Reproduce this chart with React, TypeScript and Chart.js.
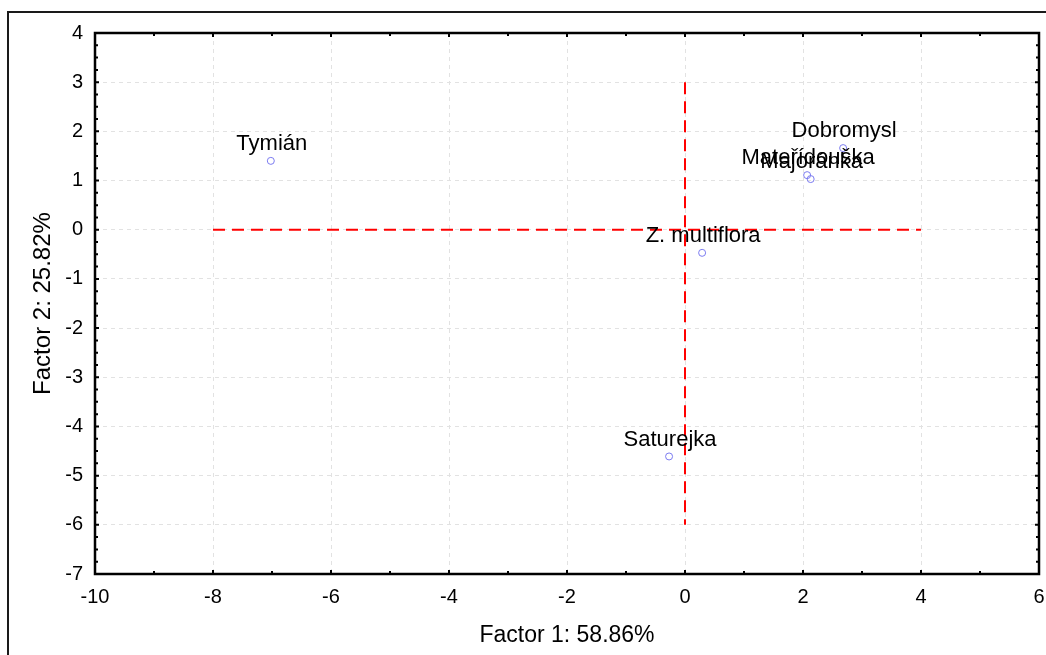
import { useEffect, useRef } from 'react';
import { Chart, registerables } from 'chart.js';

Chart.register(...registerables);

// ---- data ----
const pointNames = ['Tymián', 'Dobromysl', 'Mateřídouška', 'Majoránka', 'Z. multiflora', 'Saturejka'];
const factor1 = [-7.02, 2.68, 2.07, 2.13, 0.29, -0.27];
const factor2 = [1.4, 1.66, 1.11, 1.03, -0.47, -4.61];

const hLineX = [-8, 4];
const hLineY = [0, 0];
const vLineX = [0, 0];
const vLineY = [3, -6];

const xMin = -10;
const xMax = 6;
const xStep = 2;
const yMin = -7;
const yMax = 4;
const yStep = 1;

const xAxisTitle = 'Factor 1: 58.86%';
const yAxisTitle = 'Factor 2: 25.82%';

const FONT = '"Liberation Sans", Arial, Helvetica, sans-serif';

const outerBorderPlugin = {
  id: 'outerBorder',
  beforeDraw(chart: any) {
    const ctx = chart.ctx;
    ctx.save();
    ctx.strokeStyle = '#1a1a1a';
    ctx.lineWidth = 2;
    ctx.beginPath();
    ctx.moveTo(8, chart.height + 5);
    ctx.lineTo(8, 12);
    ctx.lineTo(chart.width + 5, 12);
    ctx.stroke();
    ctx.restore();
  },
};

const framePlugin = {
  id: 'frame',
  afterDraw(chart: any) {
    const { ctx, chartArea } = chart;
    const xs = chart.scales.x;
    const ys = chart.scales.y;
    const { left, right, top, bottom } = chartArea;
    ctx.save();
    ctx.strokeStyle = '#000';
    ctx.lineWidth = 2;
    for (let v = xMin; v <= xMax; v += 1) {
      const px = xs.getPixelForValue(v);
      const len = v % 2 === 0 ? 4 : 3;
      ctx.beginPath();
      ctx.moveTo(px, bottom);
      ctx.lineTo(px, bottom - len);
      ctx.moveTo(px, top);
      ctx.lineTo(px, top + len);
      ctx.stroke();
    }
    for (let i = 0; i <= (yMax - yMin) * 4; i++) {
      const v = yMin + i * 0.25;
      const py = ys.getPixelForValue(v);
      const len = i % 4 === 0 ? 4 : 3;
      ctx.beginPath();
      ctx.moveTo(left, py);
      ctx.lineTo(left + len, py);
      ctx.moveTo(right, py);
      ctx.lineTo(right - len, py);
      ctx.stroke();
    }
    ctx.lineWidth = 2.5;
    ctx.strokeRect(left, top, right - left, bottom - top);
    ctx.restore();
  },
};

const labelPlugin = {
  id: 'pointLabels',
  afterDatasetsDraw(chart: any) {
    const ctx = chart.ctx;
    const meta = chart.getDatasetMeta(0);
    ctx.save();
    ctx.font = '22px ' + FONT;
    ctx.fillStyle = '#000';
    ctx.textAlign = 'center';
    ctx.textBaseline = 'middle';
    meta.data.forEach((el: any, i: number) => {
      ctx.fillText(pointNames[i], el.x + 1, el.y - 17);
    });
    ctx.restore();
  },
};

export default function App() {
  const ref = useRef<HTMLCanvasElement | null>(null);

  useEffect(() => {
    if (!ref.current) return;
    const chart = new Chart(ref.current, {
      type: 'scatter',
      data: {
        datasets: [
          {
            label: 'points',
            data: factor1.map((x, i) => ({ x, y: factor2[i] })),
            pointRadius: 3.5,
            pointBorderWidth: 1,
            pointBorderColor: '#7b7bf0',
            pointBackgroundColor: 'rgba(255,255,255,0)',
            order: 1,
          },
          {
            type: 'line',
            label: 'h',
            data: hLineX.map((x, i) => ({ x, y: hLineY[i] })),
            borderColor: '#ff0000',
            borderWidth: 2,
            borderDash: [12, 7],
            pointRadius: 0,
            fill: false,
            order: 0,
          },
          {
            type: 'line',
            label: 'v',
            data: vLineX.map((x, i) => ({ x, y: vLineY[i] })),
            borderColor: '#ff0000',
            borderWidth: 2,
            borderDash: [12, 7],
            pointRadius: 0,
            fill: false,
            order: 0,
          },
        ] as any,
      },
      options: {
        responsive: false,
        animation: false,
        devicePixelRatio: 1,
        layout: { padding: { left: 0, top: 33, right: 7, bottom: 0 } },
        plugins: {
          legend: { display: false },
          tooltip: { enabled: false },
        },
        scales: {
          x: {
            type: 'linear',
            min: xMin,
            max: xMax,
            ticks: {
              stepSize: xStep,
              padding: 11,
              color: '#000',
              font: { family: FONT, size: 20 },
            },
            grid: {
              color: '#e2e2e2',
              lineWidth: 1,
              drawTicks: false,
            },
            border: { display: false, dash: [4, 4] },
            title: {
              display: true,
              text: xAxisTitle,
              color: '#000',
              font: { family: FONT, size: 23 },
              padding: { top: 0, bottom: 6 },
            },
            afterFit(scale: any) {
              scale.height = 81;
              scale.paddingLeft = 0;
              scale.paddingRight = 0;
            },
          },
          y: {
            type: 'linear',
            min: yMin,
            max: yMax,
            ticks: {
              stepSize: yStep,
              padding: 12,
              color: '#000',
              font: { family: FONT, size: 20 },
            },
            grid: {
              color: '#e2e2e2',
              lineWidth: 1,
              drawTicks: false,
            },
            border: { display: false, dash: [4, 4] },
            title: {
              display: true,
              text: yAxisTitle,
              color: '#000',
              font: { family: FONT, size: 24 },
              padding: { top: 29, bottom: 0 },
            },
            afterFit(scale: any) {
              scale.width = 95;
              scale.paddingTop = 0;
              scale.paddingBottom = 0;
            },
          },
        },
      } as any,
      plugins: [outerBorderPlugin, framePlugin, labelPlugin],
    });
    return () => chart.destroy();
  }, []);

  return (
    <div style={{ position: 'fixed', left: 0, top: 0, width: 1046, height: 655, background: '#fff', overflow: 'hidden' }}>
      <canvas ref={ref} width={1046} height={655} style={{ display: 'block' }} />
    </div>
  );
}
